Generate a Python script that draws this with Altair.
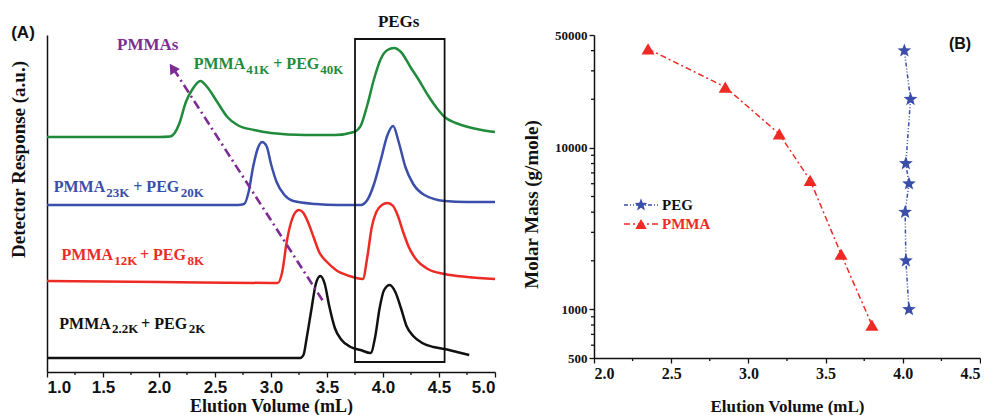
import altair as alt

# ---------------- Panel A: chromatograms (elution volume mL, response a.u.) ----------------
black_x = [1.0, 2.0, 3.0, 3.26, 3.29, 3.32, 3.36, 3.40, 3.44, 3.48, 3.52, 3.57, 3.63, 3.71, 3.80, 3.89, 3.93, 3.97, 4.01, 4.06, 4.11, 4.16, 4.21, 4.27, 4.35, 4.45, 4.55, 4.66, 4.77]
black_y = [14, 14, 14, 14, 17, 35, 62, 88, 96, 88, 66, 44, 32, 25, 22, 19, 35, 64, 82, 87, 80, 64, 46, 36, 29, 25, 23, 20, 17]

red_x = [1.0, 2.0, 3.0, 3.06, 3.10, 3.14, 3.18, 3.22, 3.25, 3.29, 3.33, 3.38, 3.43, 3.50, 3.58, 3.70, 3.82, 3.86, 3.90, 3.94, 3.99, 4.04, 4.09, 4.13, 4.18, 4.23, 4.30, 4.40, 4.55, 4.75, 5.0]
red_y = [91, 90, 89, 89, 100, 130, 150, 160, 162, 159, 150, 135, 120, 110, 102, 96, 93, 115, 145, 160, 167, 169, 166, 157, 140, 125, 112, 103, 98, 95, 93]

blue_x = [1.0, 2.0, 2.70, 2.76, 2.80, 2.84, 2.88, 2.92, 2.96, 3.00, 3.05, 3.12, 3.20, 3.40, 3.60, 3.80, 3.86, 3.92, 3.98, 4.04, 4.09, 4.14, 4.20, 4.27, 4.37, 4.55, 4.75, 5.0]
blue_y = [167, 167, 167, 168, 180, 205, 223, 230, 226, 208, 190, 177, 171, 168, 167, 167, 172, 188, 212, 237, 246, 230, 205, 188, 177, 171, 170, 170]

green_x = [1.0, 2.0, 2.10, 2.14, 2.18, 2.24, 2.30, 2.37, 2.43, 2.52, 2.61, 2.70, 2.85, 3.0, 3.3, 3.57, 3.74, 3.80, 3.86, 3.92, 3.98, 4.04, 4.10, 4.16, 4.25, 4.32, 4.40, 4.48, 4.55, 4.65, 4.76, 4.88, 5.0]
green_y = [235, 235, 235.5, 239, 248, 270, 283, 291, 285, 270, 255, 247, 242, 239, 237, 237, 240, 246, 267, 293, 313, 322, 324, 320, 304, 292, 277, 264, 255, 249, 245, 242, 240]

# label pieces (main text and subscripts), anchored in data coordinates
main_text = ["PMMA", "+ PEG"] * 4
main_x = [2.31, 3.02, 1.06, 1.77, 1.13, 1.83, 1.11, 1.84]
main_y = [303, 303, 180, 180, 112, 112, 43, 43]
main_s = ["g", "g", "b", "b", "r", "r", "k", "k"]
sub_text = ["41K", "40K", "23K", "20K", "12K", "8K", "2.2K", "2K"]
sub_x = [2.78, 3.44, 1.53, 2.195, 1.60, 2.255, 1.58, 2.265]
sub_y = [298, 298, 175, 175, 107, 107, 39, 39]
sub_s = ["g", "g", "b", "b", "r", "r", "k", "k"]

# PEG window box and PMMA arrow
box_x, box_x2, box_y, box_y2 = [3.75], [4.55], [10], [333]
arrow_x = [3.47, 2.13]
arrow_y = [70, 303]
arrow_head_x = [2.12]
arrow_head_y = [304]

# ---------------- Panel B: calibration ----------------
pmma_v = [2.35, 2.85, 3.20, 3.40, 3.60, 3.80]
pmma_m = [41000, 23800, 12200, 6300, 2200, 800]
peg_v = [4.01, 4.05, 4.02, 4.04, 4.015, 4.02, 4.04]
peg_m = [40000, 20000, 8000, 6000, 4000, 2000, 1000]

a_major = [1.0, 1.5, 2.0, 2.5, 3.0, 3.5, 4.0, 4.5, 5.0]
a_minor = [1.25, 1.75, 2.25, 2.75, 3.25, 3.75, 4.25, 4.75]
b_xmajor = [2.0, 2.5, 3.0, 3.5, 4.0, 4.5]
b_xminor = [2.25, 2.75, 3.25, 3.75, 4.25]
b_ymajor = [500, 1000, 10000, 50000]
b_yminor = [600, 700, 800, 900, 2000, 3000, 4000, 5000, 6000, 7000, 8000, 9000, 20000, 30000, 40000]

SERIF = "Liberation Serif"
SANS = "Liberation Sans"
col = {"k": "#111111", "r": "#ee2a24", "b": "#3a4eaa", "g": "#1f8b3b"}
PURPLE = "#7d2c95"
RED, BLUE = "#ee2a24", "#3a4eaa"
STAR = ("M0,-1L0.247,-0.34L0.951,-0.309L0.399,0.13L0.588,0.809L0,0.42"
        "L-0.588,0.809L-0.399,0.13L-0.951,-0.309L-0.247,-0.34Z")


def inline(records):
    return alt.Data(values=records)


curve_recs = []
for name, xs, ys in [("k", black_x, black_y), ("r", red_x, red_y), ("b", blue_x, blue_y), ("g", green_x, green_y)]:
    for i, (x, y) in enumerate(zip(xs, ys)):
        curve_recs.append({"s": name, "ev": x, "resp": y, "i": i})

A_W, A_H = 448, 337
xA = alt.X("ev:Q", scale=alt.Scale(domain=[1, 5], nice=False, zero=False),
           axis=alt.Axis(values=a_major, format=".1f", title="Elution Volume (mL)", tickSize=5,
                         labelFont=SANS, labelFontWeight="bold", labelFontSize=17, labelColor="#111",
                         labelPadding=2, tickColor="#111", tickWidth=1.3, domainColor="#111", domainWidth=1.5,
                         titleFont=SERIF, titleFontWeight="bold", titleFontSize=18, titleColor="#111",
                         titleY=34, titleBaseline="middle", grid=False))
yA = alt.Y("resp:Q", scale=alt.Scale(domain=[0, A_H], nice=False, zero=False),
           axis=alt.Axis(values=[0], labels=False, ticks=False, title="Detector Response (a.u.)",
                         domainColor="#111", domainWidth=1.5, grid=False,
                         titleFont=SERIF, titleFontWeight="bold", titleFontSize=19, titleColor="#111",
                         titleX=-29, titleY=124, titleAngle=270, titleAlign="center", titleBaseline="middle"))

cscale = alt.Scale(domain=list(col.keys()), range=list(col.values()))
lines_A = alt.Chart(inline(curve_recs)).mark_line(strokeWidth=2.5, interpolate="monotone").encode(
    x=xA, y=yA, detail="s:N", order="i:Q",
    color=alt.Color("s:N", scale=cscale, legend=None))

minorA = alt.Chart(inline([{"ev": v} for v in a_minor])).mark_rule(color="#111", strokeWidth=1.3).encode(
    x="ev:Q", y=alt.value(A_H), y2=alt.value(A_H + 3))

box = alt.Chart(inline([{"ev": a, "ev2": b, "resp": c, "resp2": d}
                        for a, b, c, d in zip(box_x, box_x2, box_y, box_y2)])).mark_rect(
    fillOpacity=0, stroke="#111", strokeWidth=1.8).encode(x="ev:Q", x2="ev2:Q", y="resp:Q", y2="resp2:Q")

arrow = alt.Chart(inline([{"ev": x, "resp": y} for x, y in zip(arrow_x, arrow_y)])).mark_line(
    color=PURPLE, strokeWidth=2.6, strokeDash=[9, 4, 2, 4]).encode(x="ev:Q", y="resp:Q")
head = alt.Chart(inline([{"ev": x, "resp": y} for x, y in zip(arrow_head_x, arrow_head_y)])).mark_point(
    shape="triangle-up", filled=True, size=130, color=PURPLE, opacity=1, angle=327).encode(x="ev:Q", y="resp:Q")

lab_main = alt.Chart(inline([{"t": t, "ev": x, "resp": y, "s": s}
                             for t, x, y, s in zip(main_text, main_x, main_y, main_s)])).mark_text(
    font=SERIF, fontWeight="bold", fontSize=16, align="left", baseline="alphabetic").encode(
    x="ev:Q", y="resp:Q", text="t:N", color=alt.Color("s:N", scale=cscale, legend=None))
lab_sub = alt.Chart(inline([{"t": t, "ev": x, "resp": y, "s": s}
                            for t, x, y, s in zip(sub_text, sub_x, sub_y, sub_s)])).mark_text(
    font=SERIF, fontWeight="bold", fontSize=13, align="left", baseline="alphabetic").encode(
    x="ev:Q", y="resp:Q", text="t:N", color=alt.Color("s:N", scale=cscale, legend=None))

pegs_note = alt.Chart(inline([{"t": "PEGs", "ev": 4.14, "resp": 350}])).mark_text(
    font=SERIF, fontWeight="bold", fontSize=17, baseline="middle", align="center", color="#111").encode(
    x="ev:Q", y="resp:Q", text="t:N")
pmmas_note = alt.Chart(inline([{"t": "PMMAs", "ev": 1.90, "resp": 327}])).mark_text(
    font=SERIF, fontWeight="bold", fontSize=17, baseline="middle", align="center", color=PURPLE).encode(
    x="ev:Q", y="resp:Q", text="t:N")
tagA = alt.Chart(inline([{"t": "(A)"}])).mark_text(
    font=SANS, fontWeight="bold", fontSize=17, align="center", baseline="middle", color="#111").encode(
    text="t:N", x=alt.value(-24), y=alt.value(-2))

panelA = alt.layer(lines_A, minorA, box, arrow, head, lab_main, lab_sub, pegs_note, pmmas_note, tagA).properties(
    width=A_W, height=A_H)

# ---------------- Panel B ----------------
B_W, B_H = 386, 323
xB = alt.X("v:Q", scale=alt.Scale(domain=[2, 4.5], nice=False, zero=False),
           axis=alt.Axis(values=b_xmajor, format=".1f", title="Elution Volume (mL)", tickSize=5,
                         labelFont=SERIF, labelFontWeight="bold", labelFontSize=16, labelColor="#111",
                         labelPadding=2, tickColor="#111", tickWidth=1.3, domainColor="#111", domainWidth=1.5,
                         titleFont=SERIF, titleFontWeight="bold", titleFontSize=17, titleColor="#111",
                         titleY=48, titleBaseline="middle", grid=False))
yB = alt.Y("m:Q", scale=alt.Scale(type="log", domain=[500, 50000], nice=False),
           axis=alt.Axis(values=b_ymajor, format="d", title="Molar Mass (g/mole)", tickSize=5,
                         labelFont=SERIF, labelFontWeight="bold", labelFontSize=13, labelColor="#111",
                         labelPadding=2, tickColor="#111", tickWidth=1.3, domainColor="#111", domainWidth=1.5,
                         titleFont=SERIF, titleFontWeight="bold", titleFontSize=19, titleColor="#111",
                         titleX=-63, titleY=169, titleAngle=270, titleAlign="center", titleBaseline="middle",
                         grid=False))

pm_recs = [{"v": v, "m": m, "i": i} for i, (v, m) in enumerate(zip(pmma_v, pmma_m))]
pg_recs = [{"v": v, "m": m, "i": i} for i, (v, m) in enumerate(zip(peg_v, peg_m))]
pm_line = alt.Chart(inline(pm_recs)).mark_line(color=RED, strokeWidth=1.5, strokeDash=[6, 3, 2, 3]).encode(
    x=xB, y=yB, order="i:Q")
pg_line = alt.Chart(inline(pg_recs)).mark_line(color=BLUE, strokeWidth=1.5, strokeDash=[4, 2, 1, 2, 1, 2]).encode(
    x="v:Q", y="m:Q", order="i:Q")
pm_pts = alt.Chart(inline(pm_recs)).mark_point(shape="triangle-up", filled=True, size=170, color=RED, opacity=1).encode(
    x="v:Q", y="m:Q")
pg_pts = alt.Chart(inline(pg_recs)).mark_point(shape=STAR, filled=True, size=210, color=BLUE, opacity=1).encode(
    x="v:Q", y="m:Q")

minorBx = alt.Chart(inline([{"v": v} for v in b_xminor])).mark_rule(color="#111", strokeWidth=1.3).encode(
    x="v:Q", y=alt.value(B_H), y2=alt.value(B_H + 3))
minorBy = alt.Chart(inline([{"m": m} for m in b_yminor])).mark_rule(color="#111", strokeWidth=1.3).encode(
    y="m:Q", x=alt.value(0), x2=alt.value(-3))

one = [{"k": 0}]
leg_line_peg = alt.Chart(inline(one)).mark_rule(color=BLUE, strokeWidth=1.5, strokeDash=[4, 2, 1, 2, 1, 2]).encode(
    x=alt.value(30), x2=alt.value(64), y=alt.value(170))
leg_line_pm = alt.Chart(inline(one)).mark_rule(color=RED, strokeWidth=1.5, strokeDash=[6, 3, 2, 3]).encode(
    x=alt.value(30), x2=alt.value(64), y=alt.value(189))
leg_star = alt.Chart(inline(one)).mark_point(shape=STAR, filled=True, size=180, color=BLUE, opacity=1).encode(
    x=alt.value(47), y=alt.value(170))
leg_tri = alt.Chart(inline(one)).mark_point(shape="triangle-up", filled=True, size=130, color=RED, opacity=1).encode(
    x=alt.value(47), y=alt.value(189))
leg_t1 = alt.Chart(inline([{"t": "PEG"}])).mark_text(font=SERIF, fontWeight="bold", fontSize=15, align="left",
                                                    baseline="middle", color="#111").encode(
    x=alt.value(68), y=alt.value(170), text="t:N")
leg_t2 = alt.Chart(inline([{"t": "PMMA"}])).mark_text(font=SERIF, fontWeight="bold", fontSize=15, align="left",
                                                     baseline="middle", color=RED).encode(
    x=alt.value(68), y=alt.value(189), text="t:N")
tagB = alt.Chart(inline([{"t": "(B)"}])).mark_text(
    font=SANS, fontWeight="bold", fontSize=16, align="center", baseline="middle", color="#111").encode(
    text="t:N", x=alt.value(366), y=alt.value(9))

panelB = alt.layer(pm_line, pg_line, pm_pts, pg_pts, minorBx, minorBy,
                   leg_line_peg, leg_line_pm, leg_star, leg_tri, leg_t1, leg_t2, tagB).properties(
    width=B_W, height=B_H)

chart = alt.hconcat(panelA, panelB, spacing=99, bounds="flush").properties(
    padding={"left": 0, "top": 4, "right": 0, "bottom": 0},
    background="white").configure_view(stroke=None)

chart.save("out.html", embed_options={"renderer": "svg", "actions": False})
